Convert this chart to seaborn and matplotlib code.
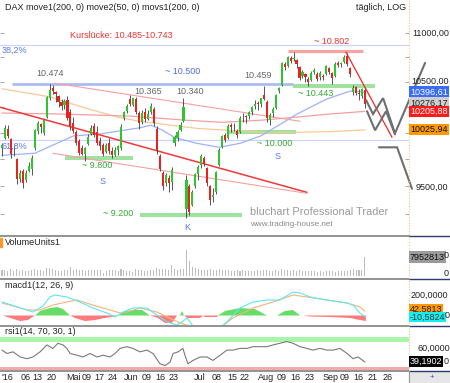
import matplotlib
matplotlib.use("Agg")
import matplotlib.pyplot as plt
from matplotlib.lines import Line2D
from matplotlib.patches import Rectangle
from matplotlib.ticker import NullLocator
import numpy as np
import pandas as pd
import seaborn as sns

# ---------------- data ----------------
opens = [9850, 9950, 10040, 9940, 9830, 9750, 9570, 9640, 9560, 9640,
         9660, 9850, 10020, 10080, 10000, 10150, 10340, 10440, 10400, 10360,
         10300, 10270, 10320, 10200, 10090, 10010, 9920, 9850, 9800, 9890,
         9990, 10060, 10010, 9920, 9880, 9820, 9900, 9830, 9790, 9840,
         9850, 10140, 10210, 10330, 10270, 10330, 10190, 10100, 10200, 10130,
         10200, 10230, 10040, 9780, 9620, 9530, 9580, 9540, 9900, 9950,
         10030, 10110, 9300, 9500, 9330, 9500, 9610, 9700, 9760, 9670,
         9500, 9400, 9450, 9700, 9860, 9980, 9950, 10070, 10060, 10020,
         10010, 10150, 10160, 10160, 10200, 10260, 10290, 10280, 10370, 10300,
         10120, 10190, 10240, 10410, 10470, 10680, 10660, 10740, 10730, 10720,
         10650, 10560, 10580, 10530, 10520, 10600, 10580, 10550, 10560, 10580,
         10640, 10590, 10560, 10690, 10680, 10700, 10760, 10640, 10400, 10450,
         10390, 10360, 10420]
highs = [9900, 10070, 10070, 9950, 9880, 9760, 9650, 9660, 9650, 9720,
         9790, 10040, 10110, 10090, 10130, 10360, 10474, 10470, 10410, 10370,
         10330, 10330, 10360, 10230, 10150, 10030, 9940, 9880, 9860, 9990,
         10070, 10090, 10060, 9960, 9900, 9900, 9950, 9860, 9860, 9880,
         10080, 10210, 10280, 10365, 10340, 10350, 10210, 10220, 10240, 10220,
         10290, 10250, 10060, 9800, 9640, 9620, 9600, 9680, 9980, 10030,
         10100, 10340, 9600, 9520, 9470, 9620, 9700, 9800, 9780, 9680,
         9510, 9480, 9640, 9850, 9980, 10000, 10080, 10090, 10090, 10040,
         10160, 10190, 10170, 10210, 10260, 10320, 10310, 10340, 10459, 10320,
         10190, 10250, 10380, 10450, 10700, 10700, 10760, 10760, 10802, 10730,
         10660, 10620, 10590, 10550, 10610, 10640, 10600, 10610, 10580, 10670,
         10650, 10600, 10700, 10710, 10700, 10770, 10790, 10650, 10470, 10460,
         10430, 10440, 10440]
lows = [9780, 9940, 9950, 9760, 9780, 9520, 9540, 9480, 9540, 9630,
        9600, 9840, 9990, 10000, 9980, 10140, 10320, 10380, 10300, 10250,
        10220, 10230, 10120, 10030, 10000, 9880, 9790, 9790, 9737, 9880,
        9980, 9960, 9880, 9840, 9780, 9810, 9800, 9760, 9780, 9790,
        9840, 10120, 10190, 10260, 10260, 10180, 10040, 10080, 10100, 10120,
        10180, 10060, 9800, 9640, 9470, 9500, 9450, 9470, 9870, 9920,
        10020, 10100, 9214, 9240, 9320, 9480, 9560, 9670, 9690, 9500,
        9330, 9360, 9430, 9690, 9850, 9910, 9940, 10010, 10020, 9950,
        10000, 10100, 10090, 10130, 10170, 10230, 10220, 10250, 10320, 10100,
        10070, 10150, 10230, 10390, 10460, 10620, 10650, 10690, 10710, 10640,
        10520, 10540, 10500, 10460, 10510, 10580, 10510, 10520, 10520, 10570,
        10580, 10480, 10550, 10650, 10650, 10690, 10660, 10550, 10370, 10370,
        10320, 10340, 10240]
closes = [9887, 10046, 9966, 9794, 9822, 9564, 9624, 9530, 9622, 9682,
          9761, 10026, 10094, 10051, 10120, 10349, 10421, 10410, 10373, 10294,
          10259, 10310, 10140, 10050, 10020, 9900, 9810, 9800, 9850, 9960,
          10045, 9980, 9900, 9870, 9800, 9880, 9830, 9790, 9840, 9870,
          10057, 10200, 10260, 10280, 10333, 10200, 10090, 10190, 10130, 10180,
          10260, 10090, 9834, 9660, 9500, 9600, 9530, 9650, 9960, 10010,
          10070, 10250, 9557, 9270, 9448, 9612, 9680, 9776, 9709, 9532,
          9373, 9418, 9629, 9833, 9964, 9930, 10068, 10050, 10063, 9981,
          10142, 10156, 10147, 10198, 10247, 10274, 10275, 10337, 10330, 10145,
          10171, 10228, 10367, 10432, 10693, 10650, 10754, 10713, 10740, 10676,
          10537, 10603, 10544, 10494, 10592, 10623, 10529, 10587, 10544, 10657,
          10593, 10534, 10684, 10673, 10688, 10752, 10675, 10573, 10432, 10386,
          10379, 10431, 10276]
volumes_mio = [2.4, 2.6, 2.2, 2.8, 2.1, 2.9, 2.3, 2.6, 2.2, 2.0,
               2.5, 3.0, 2.7, 2.4, 2.3, 3.2, 3.5, 2.8, 2.5, 2.3,
               2.2, 2.4, 2.7, 3.6, 2.5, 2.9, 2.6, 2.4, 2.3, 2.5,
               2.4, 2.6, 2.7, 2.5, 1.4, 2.3, 2.4, 2.6, 2.5, 2.2,
               2.9, 2.6, 2.3, 2.0, 1.6, 2.8, 2.6, 2.4, 2.3, 2.2,
               2.5, 2.7, 3.2, 2.9, 3.1, 2.8, 2.7, 4.6, 3.0, 2.7,
               2.8, 3.1, 10.9, 6.2, 3.9, 3.2, 2.9, 2.6, 2.4, 2.7,
               3.0, 2.6, 2.5, 2.8, 2.7, 2.5, 2.4, 2.3, 2.2, 2.4,
               2.3, 2.5, 2.1, 2.0, 2.2, 2.3, 2.4, 2.1, 2.6, 2.5,
               2.3, 2.2, 2.4, 2.0, 3.0, 2.6, 2.5, 2.2, 2.4, 2.3,
               2.6, 2.2, 2.0, 2.1, 1.9, 2.0, 1.8, 2.1, 1.7, 2.0,
               1.9, 2.2, 1.8, 2.0, 2.1, 2.3, 2.2, 2.6, 3.1, 2.4,
               2.5, 2.7, 7.95]

# moving averages (day index, value)
ema50_day = [0, 11, 24, 33, 46.5, 50, 54, 58, 65.5, 73, 80, 87, 94.5, 99, 109, 117, 122]
ema50_val = [9786, 9805, 9969, 9988, 10048, 10072, 10023, 9954, 9899, 9861, 9899, 9969,
             10097, 10177, 10326, 10406, 10397]
ema200_day = [0, 20, 43, 62, 74, 87, 99, 110, 122]
ema200_val = [10190, 10180, 10160, 10120, 10100, 10120, 10150, 10180, 10206]
sma200_day = [0, 16, 29, 39, 46, 66, 90, 110, 122]
sma200_val = [10429, 10350, 10230, 10150, 10110, 10040, 10000, 10010, 10026]

# MACD panel
macd_day = [0, 6.1, 10.4, 13.8, 16.1, 17.8, 21.8, 26.2, 30.6, 35.3, 38, 40.7, 44, 48.7, 52.1,
            55.5, 58.8, 60.5, 62.2, 64.2, 66.6, 70.9, 75.6, 80, 84.4, 89.1, 93.4, 97.8, 100.2,
            103.5, 109.2, 116, 118, 120.3, 122]
macd_val = [132, 75, 34, 93, 181, 200, 181, 132, 73, 24, -15, 34, 73, 73, 5,
            -63, -93, -63, -24, -103, -190, -171, -63, 73, 132, 151, 151, 229, 220,
            181, 151, 122, 102, 24, -10.58]
signal_day = [0, 5, 8.4, 12.8, 17.1, 21.8, 25.2, 30.6, 36.3, 39.7, 42, 46.4, 52.1, 55.5, 59.8,
              64.2, 68.2, 73.3, 77.6, 84.4, 91.1, 97.8, 102.5, 109.2, 116, 120.3, 122]
signal_val = [122, 83, 54, 54, 102, 132, 151, 102, 54, 24, 34, 73, 34, -15, -73,
              -112, -151, -122, -24, 73, 132, 200, 181, 151, 122, 83, 42.58]
hist_day = [0.3, 2.7, 6.1, 8.7, 11.1, 12.8, 16.1, 18.5, 20.5, 22.9, 24.5, 27.9, 31.3, 34.6, 38,
            39, 41.3, 44.7, 47.1, 49.7, 52.4, 54.8, 57.1, 58.8, 59.8, 60.5, 61.2, 62.2, 66.6,
            67.6, 68.2, 72.3, 72.6, 75, 80, 85, 89.1, 92.4, 95.1, 97.8, 100.2, 101.2, 103.5,
            110.3, 117, 120.3, 122.3]
hist_val = [0, -24, -54, -44, 0, 44, 73, 83, 63, 0, -24, -54, -44, -24, -10,
            0, 44, 54, 54, 0, -24, -73, -73, 0, 0, 44, 0, -24, -24,
            0, -15, -15, 0, 44, 73, 63, 0, 0, 44, 54, 0, 0, -10,
            -15, -24, -44, -54]

# RSI panel
rsi_day = [0, 1.7, 3.7, 6.1, 8.4, 10.4, 12.8, 15.1, 17.1, 18.8, 20.5, 21.8, 22.9, 25.2, 27.2,
           29.6, 31.9, 34, 36.3, 38, 39.7, 42, 44, 46.4, 48.7, 50.8, 53.1, 54.8, 56.5, 57.5,
           59.2, 60.8, 61.5, 62.5, 64.2, 66.6, 68.9, 70.9, 73.3, 75.6, 77.6, 80, 82.4, 84.4,
           86.7, 89.1, 91.1, 93.4, 95.8, 97.8, 100.2, 102.5, 104.5, 106.9, 109.2, 111.3,
           113.6, 116, 118, 119.7, 122]
rsi_val = [55.7, 51.0, 53.3, 46.2, 43.8, 46.2, 53.3, 62.9, 58.1, 65.2, 62.9, 58.1, 51.0, 48.6, 46.2,
           51.0, 46.2, 48.6, 46.2, 51.0, 58.1, 60.5, 58.1, 53.3, 55.7, 51.0, 36.7, 34.3, 39.0, 51.0,
           53.3, 58.1, 48.6, 36.7, 41.4, 46.2, 46.2, 41.4, 48.6, 55.7, 55.7, 58.1, 58.1, 60.5,
           60.5, 60.5, 62.9, 65.2, 67.6, 65.2, 60.5, 58.1, 55.7, 58.1, 55.7, 55.7,
           58.1, 51.0, 43.8, 46.2, 39.19]

# analyst drawings (day index, price)
red_trend = ([-0.7, 102.5], [10247, 9445])
red_steep = ([115.6, 131.1], [10802, 9956])
pink_upper = ([17.8, 100.2], [10485, 10110])
pink_lower = ([17.1, 102.5], [9805, 9436])
zig1 = ([122.4, 124.7, 128.1, 132.1, 142.2], [10316, 10180, 10336, 9994, 10690])
zig2 = ([122.7, 125.4, 129.1, 132.1], [10208, 10023, 10208, 9984])
zig3 = ([126.7, 132.8, 137.8], [9861, 9861, 9478])
fib_levels = [10874, 9928]
support_levels = [9763, 9243, 10010, 10455]
support_days = [(21.2, 44.0), (46.4, 80.7), (76.0, 98.8), (97.8, 125.4)]
resist_level, resist_days = 10812, (96.1, 121.3)
blue_level, blue_days = 10474, (3.4, 97.8)
price_ticks = [9250, 9500, 9750, 10000, 10250, 10500, 10750, 11000]

date_labels = ["'16", "06", "13", "20", "Mai", "09", "17", "24", "Jun", "09", "16", "23",
               "Jul", "08", "15", "22", "Aug", "09", "16", "23", "Sep", "09", "16", "21", "26"]
date_days = [1.7, 8.1, 12.0, 16.5, 23.9, 28.6, 32.6, 37.1, 43.4, 48.7, 53.1, 57.8,
             66.6, 72.3, 77.3, 81.7, 88.7, 94.1, 98.5, 103.5, 110.3, 115.3, 119.7, 124.7, 129.7]

# ---------------- layout ----------------
W, H = 450, 383
STEP, X0 = 2.975, 2.0

sns.set_theme(style="white")
plt.rcParams['font.family'] = ['Liberation Sans', 'DejaVu Sans']

fig = plt.figure(figsize=(4.5, 3.83), dpi=100)
fig.patch.set_facecolor('white')


def box(top, bottom, left=0, right=409):
    return [left / W, 1 - bottom / H, (right - left) / W, (bottom - top) / H]


ax = fig.add_axes(box(0, 234))
axv = fig.add_axes(box(237, 277))
axm = fig.add_axes(box(280, 325))
axr = fig.add_axes(box(327, 370))
axd = fig.add_axes(box(371, 383))
xlim = (-X0 / STEP, (409 - X0) / STEP)
for a in (ax, axv, axm, axr, axd):
    a.set_xlim(*xlim)
    a.set_xticks([])
    for s in a.spines.values():
        s.set_visible(False)
    a.set_facecolor('none')


def ptext(x, y, s, size=6.5, color='#222222', ha='left', va='center', **kw):
    return fig.text(x / W, 1 - y / H, s, fontsize=size, color=color, ha=ha, va=va, **kw)


def fline(x0, x1, y0, y1, **kw):
    fig.add_artist(Line2D([x0 / W, x1 / W], [1 - y0 / H, 1 - y1 / H], **kw))


# ---------------- main price panel ----------------
ax.set_yscale('log')
ax.set_ylim(9076, 11354)
ax.yaxis.set_minor_locator(NullLocator())
ax.set_yticks(price_ticks)
ax.tick_params(axis='y', which='major', direction='in', length=3, width=0.6, color='#999999',
               left=True, right=True, labelleft=False, labelright=False)
ax.set_ylabel('')

for lv in fib_levels:
    ax.axhline(lv, color='#c8d4ff', lw=0.8, zorder=1)
ax.hlines(blue_level, *blue_days, color='#a9b9f2', lw=1.9, zorder=2)
for lv, (d0, d1) in zip(support_levels, support_days):
    ax.hlines(lv, d0, d1, color='#9fe29f', lw=2.9, zorder=2)
ax.hlines(resist_level, *resist_days, color='#f6a3a3', lw=2.3, zorder=2)

sns.lineplot(x=sma200_day, y=sma200_val, ax=ax, color='#f7c99a', linewidth=0.9, zorder=3)
sns.lineplot(x=ema200_day, y=ema200_val, ax=ax, color='#f3a0a0', linewidth=0.9, zorder=3)
sns.lineplot(x=ema50_day, y=ema50_val, ax=ax, color='#9fb2f6', linewidth=0.9, zorder=3)

ax.plot(*red_trend, color='#ee3a3a', lw=1.1, zorder=3)
ax.plot(*pink_upper, color='#f6a0a0', lw=0.8, zorder=3)
ax.plot(*pink_lower, color='#f6a0a0', lw=0.8, zorder=3)

idx = np.arange(len(closes))
o, c = np.array(opens, float), np.array(closes, float)
hi, lo = np.array(highs, float), np.array(lows, float)
up = c >= o
ax.vlines(idx, lo, hi, color='#3a3a3a', lw=0.6, zorder=4)
ax.bar(idx[up], (c - o)[up], bottom=o[up], width=0.72, color='#2ec52e', linewidth=0, zorder=5)
ax.bar(idx[~up], (o - c)[~up], bottom=c[~up], width=0.72, color='#e8221e', linewidth=0, zorder=5)

ax.plot(*red_steep, color='#ee2a2a', lw=0.9, zorder=6)
for z in (zig1, zig2, zig3):
    ax.plot(*z, color='#6e6e6e', lw=1.5, zorder=6, clip_on=False, solid_joinstyle='miter')

# main texts
ptext(5, 7, 'DAX move1(200, 0) move2(50, 0) movs1(200, 0)', size=6.5)
ptext(406, 7, 'täglich, LOG', size=6.5, ha='right')
ptext(121, 36, 'Kurslücke: 10.485-10.743', size=6.5, color='#ee3333', ha='center')
ptext(2, 50, '38,2%', size=6.5, color='#5a78ea')
ptext(2, 146, '61,8%', size=6.5, color='#5a78ea')
ptext(50, 74, '10.474', size=6.5, color='#666666', ha='center')
ptext(183, 71, '~ 10.500', size=6.5, color='#4f6fe0', ha='center')
ptext(148, 91, '10.365', size=6.5, color='#666666', ha='center')
ptext(190, 92, '10.340', size=6.5, color='#666666', ha='center')
ptext(258, 75, '10.459', size=6.5, color='#666666', ha='center')
ptext(332, 42, '~ 10.802', size=6.5, color='#ee3333', ha='center')
ptext(316, 94, '~ 10.443', size=6.5, color='#33aa33', ha='center')
ptext(97, 166, '~ 9.800', size=6.5, color='#33aa33', ha='center')
ptext(103, 181, 'S', size=6.5, color='#5a78ea', ha='center')
ptext(275, 143, '~ 10.000', size=6.5, color='#33aa33', ha='center')
ptext(278, 157, 'S', size=6.5, color='#5a78ea', ha='center')
ptext(118, 214, '~ 9.200', size=6.5, color='#33aa33', ha='center')
ptext(187, 228, 'K', size=6.5, color='#5a78ea', ha='center')
ptext(250, 212, 'bluchart Professional Trader', size=7.9, color='#9a9a9a')
ptext(250, 224, 'www.trading-house.net', size=5.9, color='#8a8a8a')

# right price labels
ptext(412, 33, '11000,00', size=6.5)
ptext(411, 81, '10500,00', size=6.5)
ptext(416, 187, '9500,00', size=6.5)
ptext(410, 92, '10396,61', size=6.5, color='white',
      bbox=dict(boxstyle='square,pad=0.12', fc='#3a6cf6', ec='none'))
ptext(410, 103, '10276,17', size=6.5, color='#222222',
      bbox=dict(boxstyle='square,pad=0.12', fc='#cfcfcf', ec='none'))
ptext(410, 111.5, '10205,88', size=6.5, color='white',
      bbox=dict(boxstyle='square,pad=0.12', fc='#ff1a1a', ec='none'))
ptext(410, 129.5, '10025,94', size=6.5, color='#111111',
      bbox=dict(boxstyle='square,pad=0.12', fc='#ff9900', ec='none'))

# ---------------- volume panel ----------------
axv.set_ylim(-0.42, 16.4)
axv.set_yticks([])
axv.bar(idx, volumes_mio, width=0.35, color='#bdbdbd', linewidth=0)
ptext(5, 242, 'VolumeUnits1', size=6.5)
fig.add_artist(Rectangle((0, 1 - 247 / H), 2 / W, 9 / H, color='#ff9a2a'))
ptext(410, 257, '7952813', size=6.5, color='#111111',
      bbox=dict(boxstyle='square,pad=0.12', fc='#9b9b9b', ec='none'))
ptext(446.5, 256, '0', size=6.5, ha='center')
ptext(446, 273, '0', size=6.5, ha='center')

# ---------------- MACD panel ----------------
axm.set_ylim(-92.7, 346.5)
axm.set_yticks([])
hd, hv = np.array(hist_day), np.array(hist_val, float)
axm.fill_between(hd, 0, hv, where=hv >= 0, interpolate=True, color='#66dd66', linewidth=0)
axm.fill_between(hd, 0, hv, where=hv <= 0, interpolate=True, color='#ff7a7a', linewidth=0)
sns.lineplot(x=signal_day, y=signal_val, ax=axm, color='#f7b27a', linewidth=0.8)
sns.lineplot(x=macd_day, y=macd_val, ax=axm, color='#5ee6f4', linewidth=0.8)
axm.set_ylabel('')
ptext(5, 285, 'macd1(12, 26, 9)', size=6.5)
ptext(411, 295, '200,0000', size=6.5)
ptext(410, 309.5, '42,5813', size=6.5, color='#222222',
      bbox=dict(boxstyle='square,pad=0.1', fc='#ff9900', ec='none'))
ptext(410, 317, '-10,5824', size=6.5, color='#333333',
      bbox=dict(boxstyle='square,pad=0.1', fc='#14f0f0', ec='none'))
ptext(447.5, 316, '0', size=6.5, ha='center')

# ---------------- RSI panel ----------------
axr.set_ylim(28.1, 87.8)
axr.set_yticks([])
axr.axhspan(67.0, 73.8, color='#aaf5aa', linewidth=0)
axr.axhspan(26.0, 32.5, color='#f5aaaa', linewidth=0)
sns.lineplot(x=rsi_day, y=rsi_val, ax=axr, color='#7a7a7a', linewidth=0.8)
axr.set_ylabel('')
ptext(5, 332, 'rsi1(14, 70, 30, 1)', size=6.5)
ptext(417, 348, '60,0000', size=6.5)
ptext(410, 361.5, '39,1902', size=6.5, color='white',
      bbox=dict(boxstyle='square,pad=0.1', fc='#000000', ec='none'))
ptext(446.5, 361.5, '0', size=6.5, ha='center')

# ---------------- date axis ----------------
axd.set_ylim(0, 1)
axd.set_yticks([])
for d, lab in zip(date_days, date_labels):
    axd.text(d, 0.45, lab, fontsize=6.5, ha='center', va='center', color='#222222')
fig.add_artist(Rectangle((409 / W, 0), 41 / W, 12 / H, color='#e6e6e6'))
ptext(432, 377, '+', size=5.5, color='#2a4ab0', ha='center')

# ---------------- separators / frame ----------------
for ysep in (235.5, 278.5, 326, 370.5):
    fline(0, 409, ysep, ysep, color='#8a8a8a', lw=1.3)
    fline(409, 450, ysep, ysep, color='#2c3c6e', lw=1.0)
fline(409, 409, 0, 370.5, color='#e6c796', lw=0.8, ls=(0, (1, 1.5)))
fline(409, 409, 370.5, 383, color='#9a9a9a', lw=0.8)

fig.savefig('out.png', dpi=100, facecolor='white')
